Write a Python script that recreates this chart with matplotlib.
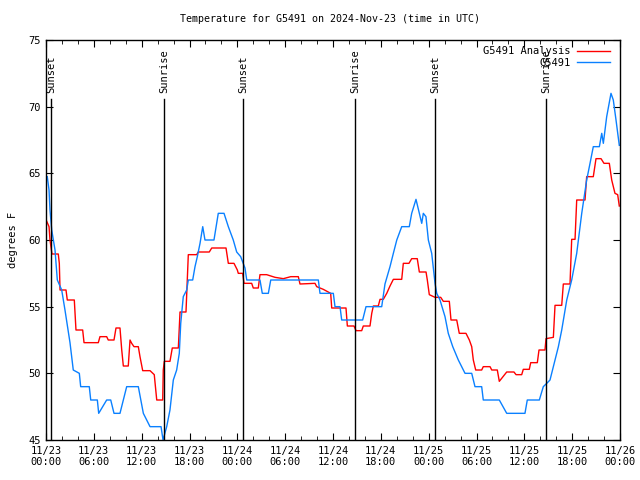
"""Temperature for G5491, 2024-Nov-23 (gnuplot style chart)"""

import matplotlib
matplotlib.use("Agg")
import matplotlib.pyplot as plt
import matplotlib.dates as mdates
import pandas as pd

# hours after 2024-11-23 00:00 UTC
obs_hours = [0.16, 0.38, 0.50, 0.72, 1.13, 1.42, 1.97, 2.38, 3.01, 3.42, 4.18, 4.35, 5.43, 5.61,
             6.44, 6.61, 7.61, 8.12, 8.53, 9.28, 10.12, 11.58, 12.21, 13.05, 14.43, 14.68, 15.14,
             15.55, 15.97, 16.39, 16.72, 16.90, 17.22, 17.65, 17.85, 18.40, 18.69, 18.98, 19.32,
             19.66, 19.94, 21.07, 21.61, 22.33, 22.87, 23.49, 23.92, 24.42, 24.96, 25.18, 26.84,
             27.13, 27.89, 28.19, 34.16, 34.37, 36.04, 36.25, 36.88, 37.09, 39.72, 40.14, 42.11,
             42.52, 43.15, 43.57, 44.00, 44.62, 45.57, 45.87, 46.41, 46.83, 47.13, 47.33, 47.66,
             47.96, 48.38, 48.80, 49.01, 49.42, 50.05, 50.46, 51.02, 51.72, 52.56, 53.40, 53.81,
             54.65, 54.85, 56.86, 57.79, 60.08, 60.37, 61.88, 62.38, 62.81, 63.22, 63.85, 64.27,
             64.69, 65.32, 65.94, 66.57, 67.20, 67.82, 68.24, 68.65, 69.41, 69.71, 69.91, 70.33,
             70.87, 71.16, 71.50, 71.91]
obs_temp = [64.75, 63.75, 62.25, 60.75, 59.25, 57.0, 56.25, 54.75, 52.3, 50.25, 50.0, 49.0, 49.0, 48.0,
            48.0, 47.0, 48.0, 48.0, 47.0, 47.0, 49.0, 49.0, 47.0, 46.0, 46.0, 45.0, 46.0,
            47.25, 49.5, 50.25, 51.5, 53.75, 55.75, 56.25, 57.0, 57.0, 58.0, 58.75, 59.75,
            61.0, 60.0, 60.0, 62.0, 62.0, 61.0, 60.0, 59.1, 58.75, 57.9, 57.0, 57.0,
            56.0, 56.0, 57.0, 57.0, 56.0, 56.0, 55.0, 55.0, 54.0, 54.0, 55.0, 55.0,
            56.7, 58.0, 59.0, 60.0, 61.0, 61.0, 62.0, 63.05, 62.0, 61.25, 62.0, 61.75,
            60.0, 59.0, 56.75, 56.0, 55.5, 54.25, 53.0, 52.0, 51.0, 50.0, 50.0, 49.0,
            49.0, 48.0, 48.0, 47.0, 47.0, 48.0, 48.0, 49.0, 49.25, 49.5, 51.0, 52.0,
            53.25, 55.5, 57.0, 59.0, 62.0, 64.5, 65.75, 67.0, 67.0, 68.0, 67.25, 69.25,
            71.0, 70.5, 69.0, 67.1]

ana_hours = [0.09, 0.38, 0.50, 0.75, 1.54, 1.67, 1.76, 2.51, 2.67, 3.55, 3.76, 4.60, 4.77, 6.56,
             6.77, 7.61, 7.81, 8.53, 8.78, 9.28, 9.50, 9.70, 10.32, 10.54, 10.75, 11.04, 11.58,
             11.79, 12.13, 13.05, 13.58, 13.89, 14.64, 14.71, 14.84, 15.55, 15.84, 16.60, 16.81,
             17.56, 17.85, 18.90, 19.10, 20.48, 20.79, 22.58, 22.87, 23.58, 24.00, 24.12, 24.67,
             24.84, 25.80, 26.00, 26.63, 26.84, 27.68, 28.73, 29.77, 30.70, 31.65, 31.86, 33.74,
             33.96, 34.78, 35.71, 35.84, 37.63, 37.80, 38.63, 38.89, 39.60, 39.80, 40.64, 40.86,
             41.06, 41.68, 41.90, 42.31, 42.74, 43.15, 43.57, 44.62, 44.82, 45.53, 45.87, 46.57,
             46.83, 47.67, 47.83, 48.08, 48.80, 49.51, 49.84, 50.59, 50.80, 51.52, 51.84, 52.68,
             53.10, 53.40, 53.60, 53.90, 54.65, 54.85, 55.70, 55.91, 56.61, 56.86, 57.79, 58.70,
             58.96, 59.67, 59.87, 60.62, 60.80, 61.63, 61.84, 62.59, 62.72, 63.64, 63.85, 64.69,
             64.89, 65.73, 65.94, 66.36, 66.57, 67.61, 67.82, 68.65, 68.99, 69.62, 69.99, 70.66,
             70.96, 71.37, 71.71, 71.91]
ana_temp = [61.4, 61.0, 60.0, 58.95, 58.95, 58.25, 56.25, 56.25, 55.5, 55.5, 53.25, 53.25, 52.3, 52.3,
            52.75, 52.75, 52.5, 52.5, 53.4, 53.4, 51.75, 50.55, 50.55, 52.5, 52.25, 52.0, 52.0,
            51.25, 50.2, 50.2, 49.9, 48.0, 48.0, 50.25, 50.9, 50.9, 51.9, 51.9, 54.6,
            54.6, 58.9, 58.9, 59.1, 59.1, 59.4, 59.4, 58.25, 58.25, 57.75, 57.5, 57.5,
            56.75, 56.75, 56.4, 56.4, 57.4, 57.4, 57.2, 57.1, 57.25, 57.25, 56.7, 56.75,
            56.5, 56.3, 56.0, 54.9, 54.9, 53.55, 53.55, 53.2, 53.2, 53.55, 53.55, 54.5,
            55.05, 55.05, 55.55, 55.55, 56.0, 56.55, 57.05, 57.05, 58.25, 58.25, 58.6, 58.6,
            57.6, 57.6, 57.0, 55.9, 55.7, 55.7, 55.4, 55.4, 54.0, 54.0, 53.0, 53.0,
            52.5, 52.0, 51.0, 50.25, 50.25, 50.5, 50.5, 50.25, 50.25, 49.4, 50.1, 50.1,
            49.9, 49.9, 50.3, 50.3, 50.8, 50.8, 51.75, 51.75, 52.6, 52.7, 55.1, 55.1,
            56.7, 56.7, 60.05, 60.05, 63.0, 63.0, 64.75, 64.75, 66.1, 66.1, 65.75, 65.75,
            64.5, 63.5, 63.4, 62.55]

sun_hours = [0.63, 14.80, 24.71, 38.76, 48.80, 62.72]
sun_labels = ["Sunset", "Sunrise", "Sunset", "Sunrise", "Sunset", "Sunrise"]

start = pd.Timestamp("2024-11-23 00:00")
to_time = lambda hrs: start + pd.to_timedelta(hrs, unit="h")

FONT = "DejaVu Sans Mono"
plt.rcParams["font.family"] = FONT

fig = plt.figure(figsize=(6.4, 4.8), dpi=100)
ax = fig.add_axes([46 / 640, 40 / 480, 574 / 640, 400 / 480])

ax.plot(to_time(ana_hours), ana_temp, color="#ff0000", lw=1.0, label="G5491 Analysis")
ax.plot(to_time(obs_hours), obs_temp, color="#0a80ff", lw=1.0, label="G5491")

for h, lab in zip(sun_hours, sun_labels):
    t = to_time(h)
    ax.plot([t, t], [45, 70.55], color="black", lw=1.0, zorder=5)
    ax.text(t, 71.0, lab, rotation=90, ha="center", va="bottom", fontsize=7.5)

ax.set_xlim(start, to_time(72))
ax.set_ylim(45, 75)
ax.set_yticks(range(45, 76, 5))
ax.xaxis.set_major_locator(mdates.HourLocator(byhour=range(0, 24, 6)))
ax.xaxis.set_minor_locator(mdates.HourLocator(byhour=range(0, 24, 2)))
ax.xaxis.set_major_formatter(mdates.DateFormatter("%m/%d\n%H:%M"))
ax.tick_params(which="both", direction="in", top=True, right=True, labelsize=7.5, pad=4)
ax.tick_params(which="major", length=5)
ax.tick_params(which="minor", length=3)
for s in ax.spines.values():
    s.set_linewidth(1.0)

ax.set_ylabel("degrees F", fontsize=7.5, labelpad=7)
fig.text(330 / 640, 1 - 19 / 480, "Temperature for G5491 on 2024-Nov-23 (time in UTC)",
         ha="center", va="center", fontsize=7.2)

ax.legend(loc="upper right", frameon=False, markerfirst=False, fontsize=7.5,
          handlelength=3.2, handletextpad=0.6, labelspacing=0.15,
          borderaxespad=0.0, bbox_to_anchor=(0.99, 0.995))

fig.savefig("out.png", dpi=100)
